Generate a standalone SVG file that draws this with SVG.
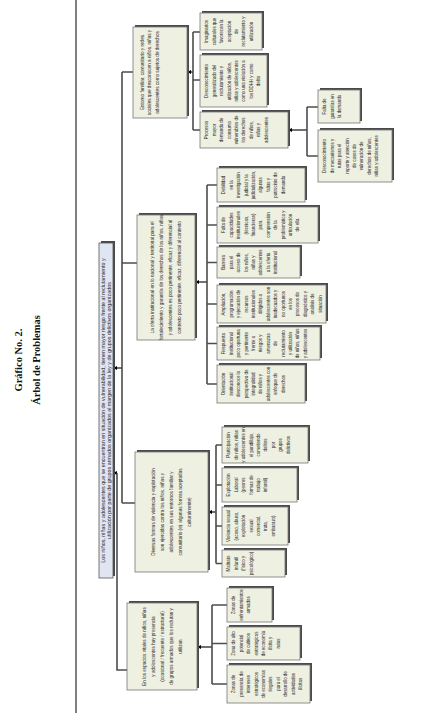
<svg xmlns="http://www.w3.org/2000/svg" width="431" height="713" viewBox="0 0 431 713">
<style>
.bg{fill:#ffffff}
.box{fill:#eef0e1;stroke:#777;stroke-width:0.8}
.rootbox{fill:#dfe6f2;stroke:#555;stroke-width:0.8}
.sh{fill:#4a4a4a}
.t{font-family:"Liberation Sans",Arial,sans-serif;font-size:5.4px;fill:#2a2a2a;text-anchor:middle}
.title{font-family:"Liberation Serif","Times New Roman",serif;font-weight:bold;font-size:10.5px;fill:#111;text-anchor:middle}
.c{stroke:#4d4d4d;stroke-width:1.6;fill:none}
.a{stroke:#4d4d4d;stroke-width:1.6;fill:none;marker-end:url(#arr)}
</style>
<defs>
<marker id="arr" viewBox="0 0 10 10" refX="9" refY="5" markerWidth="4" markerHeight="4" markerUnits="userSpaceOnUse" orient="auto">
<path d="M0,0 L10,5 L0,10 z" fill="#000"/>
</marker>
</defs>
<rect class="bg" x="0" y="0" width="431" height="713"/>
<g transform="matrix(0,-1,1,0,0,713)">
<g id="title">
<text class="title" x="353" y="22">Gráfico No. 2.</text>
<text class="title" x="353" y="40">Árbol de Problemas</text>
</g>
<line x1="0" y1="76" x2="713" y2="76" stroke="#555" stroke-width="1.5"/>
<g id="connectors">
<path class="a" d="M345,122 L345,113.5"/>
<path class="c" d="M210,122 L641,122 M641,122 L641,133 M450,122 L450,137 M210,122 L210,135"/>
<path class="a" d="M240,117 L240,113.5"/>
<path class="c" d="M240,117 L43,117 L43,127"/>
<path class="a" d="M641,193 L641,187.5"/>
<path class="c" d="M583,193 L681,193 M681,193 L681,200 M633,193 L633,200 M583,193 L583,200"/>
<path class="a" d="M583,307 L583,288.5"/>
<path class="c" d="M557,307 L606,307 M606,307 L606,318 M557,307 L557,318"/>
<path class="a" d="M431,207 L431,195.5"/>
<path class="c" d="M329,207 L528,207 M528,207 L528,217 M488,207 L488,217 M450.5,207 L450.5,217 M409,207 L409,217 M369.5,207 L369.5,217 M329,207 L329,217"/>
<path class="a" d="M201,216 L201,208.5"/>
<path class="c" d="M149.5,216 L268,216 M268,216 L268,222 M228,216 L228,222 M187,216 L187,222 M149.5,216 L149.5,222"/>
<path class="a" d="M66,212 L66,197.5"/>
<path class="c" d="M29,212 L108,212 M108,212 L108,227 M69.5,212 L69.5,227 M29,212 L29,227"/>
</g>
<g id="root">
<rect class="sh" x="137" y="101" width="335" height="14"/>
<rect class="rootbox" x="135" y="99" width="335" height="14"/>
<text class="t" x="302.5" y="104.9">Los niños, niñas y adolescentes que se encuentran en situación de vulnerabilidad, tienen mayor riesgo frente al reclutamiento y</text>
<text class="t" x="302.5" y="110.7">utilización por parte de grupos armados organizados al margen de la ley y de grupos delictivos organizados</text>
</g>
<g id="entorno">
<rect class="sh" x="597" y="135" width="91" height="54"/>
<rect class="box" x="595" y="133" width="91" height="54"/>
<text class="t" transform="translate(640.5,0) scale(0.86,1)"><tspan x="0" y="144">Entorno familiar, comunitario y redes</tspan><tspan x="0" y="151.4">sociales que desconocen a niños, niñas y</tspan><tspan x="0" y="158.8">adolescentes como sujetos de derechos</tspan></text>
</g>
<g id="imaginarios">
<rect class="sh" x="665" y="202" width="37" height="62"/>
<rect class="box" x="663" y="200" width="37" height="62"/>
<text class="t" transform="translate(681.5,0) scale(0.82,1)"><tspan x="0" y="208.5">Imaginarios</tspan><tspan x="0" y="215.9">culturales que</tspan><tspan x="0" y="223.3">favorecen la</tspan><tspan x="0" y="230.7">aceptación</tspan><tspan x="0" y="238.1">de</tspan><tspan x="0" y="245.5">reclutamiento y</tspan><tspan x="0" y="252.9">utilización</tspan></text>
</g>
<g id="desconocimiento">
<rect class="sh" x="608" y="202" width="52" height="67"/>
<rect class="box" x="606" y="200" width="52" height="67"/>
<text class="t" transform="translate(632,0) scale(0.82,1)"><tspan x="0" y="208.5">Desconocimiento</tspan><tspan x="0" y="215.9">generalizado del</tspan><tspan x="0" y="223.3">reclutamiento y</tspan><tspan x="0" y="230.7">utilización de niños,</tspan><tspan x="0" y="238.1">niñas y adolescentes</tspan><tspan x="0" y="245.5">como una violación a</tspan><tspan x="0" y="252.9">los DDHH y como</tspan><tspan x="0" y="260.3">delito</tspan></text>
</g>
<g id="procesos">
<rect class="sh" x="567" y="202" width="36" height="88"/>
<rect class="box" x="565" y="200" width="36" height="88"/>
<text class="t" transform="translate(583,0) scale(0.82,1)"><tspan x="0" y="208.5">Procesos</tspan><tspan x="0" y="215.9">mayor</tspan><tspan x="0" y="223.3">demanda de</tspan><tspan x="0" y="230.7">consumo</tspan><tspan x="0" y="238.1">vulnerables de</tspan><tspan x="0" y="245.5">los derechos</tspan><tspan x="0" y="252.9">de niños,</tspan><tspan x="0" y="260.3">niñas y</tspan><tspan x="0" y="267.7">adolescentes</tspan></text>
</g>
<g id="falta-garantias">
<rect class="sh" x="592" y="320" width="33" height="42"/>
<rect class="box" x="590" y="318" width="33" height="42"/>
<text class="t" transform="translate(606.5,0) scale(0.82,1)"><tspan x="0" y="326.5">Falta de</tspan><tspan x="0" y="333.9">garantías en</tspan><tspan x="0" y="341.3">la demanda</tspan></text>
</g>
<g id="desconocimiento-mecanismos">
<rect class="sh" x="533" y="320" width="52" height="74"/>
<rect class="box" x="531" y="318" width="52" height="74"/>
<text class="t" transform="translate(557,0) scale(0.82,1)"><tspan x="0" y="326.5">Desconocimiento</tspan><tspan x="0" y="333.9">de mecanismos y</tspan><tspan x="0" y="341.3">rutas para el</tspan><tspan x="0" y="348.7">reporte y atención</tspan><tspan x="0" y="356.1">de casos de</tspan><tspan x="0" y="363.5">vulneración de</tspan><tspan x="0" y="370.9">derechos de niños,</tspan><tspan x="0" y="378.3">niñas y adolescentes</tspan></text>
</g>
<g id="oferta">
<rect class="sh" x="375" y="139" width="125" height="58"/>
<rect class="box" x="373" y="137" width="125" height="58"/>
<text class="t" transform="translate(435.5,0) scale(0.86,1)"><tspan x="0" y="154.4">La oferta institucional en lo nacional y territorial para el</tspan><tspan x="0" y="163.4">fortalecimiento y garantía de los derechos de los niños, niñas</tspan><tspan x="0" y="172.4">y adolescentes es poco pertinente, eficaz y diferencial al</tspan><tspan x="0" y="181.4">contexto poco pertinente, eficaz, diferencial al contexto</tspan></text>
</g>
<g id="debilidad">
<rect class="sh" x="513" y="219" width="34" height="88"/>
<rect class="box" x="511" y="217" width="34" height="88"/>
<text class="t" transform="translate(528,0) scale(0.82,1)"><tspan x="0" y="225.5">Debilidad</tspan><tspan x="0" y="232.9">en la</tspan><tspan x="0" y="240.3">investigación</tspan><tspan x="0" y="247.7">judicial y la</tspan><tspan x="0" y="255.1">judicialización,</tspan><tspan x="0" y="262.5">algunas</tspan><tspan x="0" y="269.9">faltas y</tspan><tspan x="0" y="277.3">patrocinio de</tspan><tspan x="0" y="284.7">demanda</tspan></text>
</g>
<g id="falta-capacidades">
<rect class="sh" x="472" y="219" width="36" height="101"/>
<rect class="box" x="470" y="217" width="36" height="101"/>
<text class="t" transform="translate(488,0) scale(0.82,1)"><tspan x="0" y="225.5">Falta de</tspan><tspan x="0" y="232.9">capacidades</tspan><tspan x="0" y="240.3">institucionales</tspan><tspan x="0" y="247.7">(técnicas,</tspan><tspan x="0" y="255.1">financieras)</tspan><tspan x="0" y="262.5">para</tspan><tspan x="0" y="269.9">comprensión</tspan><tspan x="0" y="277.3">de la</tspan><tspan x="0" y="284.7">problemática y</tspan><tspan x="0" y="292.1">articulación</tspan><tspan x="0" y="299.5">de ella</tspan></text>
</g>
<g id="barrera">
<rect class="sh" x="437" y="219" width="31" height="83"/>
<rect class="box" x="435" y="217" width="31" height="83"/>
<text class="t" transform="translate(450.5,0) scale(0.82,1)"><tspan x="0" y="225.5">Barrera</tspan><tspan x="0" y="232.9">para el</tspan><tspan x="0" y="240.3">acceso de</tspan><tspan x="0" y="247.7">los niños,</tspan><tspan x="0" y="255.1">niñas y</tspan><tspan x="0" y="262.5">adolescentes</tspan><tspan x="0" y="269.9">a la oferta</tspan><tspan x="0" y="277.3">institucional</tspan></text>
</g>
<g id="ampliacion">
<rect class="sh" x="392" y="219" width="38" height="109"/>
<rect class="box" x="390" y="217" width="38" height="109"/>
<text class="t" transform="translate(409,0) scale(0.82,1)"><tspan x="0" y="225.5">Ampliación,</tspan><tspan x="0" y="232.9">programación</tspan><tspan x="0" y="240.3">y ejecución de</tspan><tspan x="0" y="247.7">recursos</tspan><tspan x="0" y="255.1">institucionales</tspan><tspan x="0" y="262.5">dirigidos a</tspan><tspan x="0" y="269.9">adolescentes son</tspan><tspan x="0" y="277.3">inadecuados y</tspan><tspan x="0" y="284.7">no oportunos</tspan><tspan x="0" y="292.1">en los</tspan><tspan x="0" y="299.5">procesos de</tspan><tspan x="0" y="306.9">diagnóstico y</tspan><tspan x="0" y="314.3">análisis de</tspan><tspan x="0" y="321.7">situación</tspan></text>
</g>
<g id="respuesta">
<rect class="sh" x="355" y="219" width="33" height="103"/>
<rect class="box" x="353" y="217" width="33" height="103"/>
<text class="t" transform="translate(369.5,0) scale(0.82,1)"><tspan x="0" y="225.5">Respuesta</tspan><tspan x="0" y="232.9">institucional</tspan><tspan x="0" y="240.3">poco oportuna</tspan><tspan x="0" y="247.7">y pertinente</tspan><tspan x="0" y="255.1">frente a</tspan><tspan x="0" y="262.5">riesgos y</tspan><tspan x="0" y="269.9">amenazas</tspan><tspan x="0" y="277.3">de</tspan><tspan x="0" y="284.7">reclutamiento</tspan><tspan x="0" y="292.1">y utilización</tspan><tspan x="0" y="299.5">de niños, niñas</tspan><tspan x="0" y="306.9">y adolescentes</tspan></text>
</g>
<g id="orientacion">
<rect class="sh" x="312" y="219" width="38" height="88"/>
<rect class="box" x="310" y="217" width="38" height="88"/>
<text class="t" transform="translate(329,0) scale(0.82,1)"><tspan x="0" y="225.5">Orientación</tspan><tspan x="0" y="232.9">institucional</tspan><tspan x="0" y="240.3">desconoce la</tspan><tspan x="0" y="247.7">perspectiva de</tspan><tspan x="0" y="255.1">integralidad</tspan><tspan x="0" y="262.5">de niños y</tspan><tspan x="0" y="269.9">adolescentes con</tspan><tspan x="0" y="277.3">enfoque de</tspan><tspan x="0" y="284.7">derechos</tspan></text>
</g>
<g id="diversas">
<rect class="sh" x="143" y="137" width="120" height="73"/>
<rect class="box" x="141" y="135" width="120" height="73"/>
<text class="t" transform="translate(201,0) scale(0.86,1)"><tspan x="0" y="155.4">Diversas formas de violencia y explotación</tspan><tspan x="0" y="164.4">son ejercidas contra los niños, niñas y</tspan><tspan x="0" y="173.4">adolescentes en sus entornos familiar y</tspan><tspan x="0" y="182.4">comunitario (ej: algunas formas aceptadas</tspan><tspan x="0" y="191.4">culturalmente)</tspan></text>
</g>
<g id="participacion">
<rect class="sh" x="252" y="224" width="36" height="86"/>
<rect class="box" x="250" y="222" width="36" height="86"/>
<text class="t" transform="translate(268,0) scale(0.82,1)"><tspan x="0" y="230.5">Participación</tspan><tspan x="0" y="237.9">de niños, niñas</tspan><tspan x="0" y="245.3">y adolescentes en</tspan><tspan x="0" y="252.7">el pandillaje,</tspan><tspan x="0" y="260.1">cometiendo</tspan><tspan x="0" y="267.5">delitos</tspan><tspan x="0" y="274.9">por</tspan><tspan x="0" y="282.3">grupos</tspan><tspan x="0" y="289.7">delictivos</tspan></text>
</g>
<g id="explotacion">
<rect class="sh" x="213" y="224" width="34" height="75"/>
<rect class="box" x="211" y="222" width="34" height="75"/>
<text class="t" transform="translate(228,0) scale(0.82,1)"><tspan x="0" y="230.5">Explotación</tspan><tspan x="0" y="237.9">Laboral</tspan><tspan x="0" y="245.3">(peores</tspan><tspan x="0" y="252.7">formas de</tspan><tspan x="0" y="260.1">trabajo</tspan><tspan x="0" y="267.5">infantil)</tspan></text>
</g>
<g id="violencia">
<rect class="sh" x="170" y="224" width="38" height="66"/>
<rect class="box" x="168" y="222" width="38" height="66"/>
<text class="t" transform="translate(187,0) scale(0.82,1)"><tspan x="0" y="230.5">Violencia sexual</tspan><tspan x="0" y="237.9">(acoso, abuso,</tspan><tspan x="0" y="245.3">explotación</tspan><tspan x="0" y="252.7">sexual</tspan><tspan x="0" y="260.1">comercial,</tspan><tspan x="0" y="267.5">trata,</tspan><tspan x="0" y="274.9">embarazo)</tspan></text>
</g>
<g id="maltrato">
<rect class="sh" x="138" y="224" width="27" height="63"/>
<rect class="box" x="136" y="222" width="27" height="63"/>
<text class="t" transform="translate(149.5,0) scale(0.82,1)"><tspan x="0" y="230.5">Maltrato</tspan><tspan x="0" y="237.9">infantil</tspan><tspan x="0" y="245.3">(físico y</tspan><tspan x="0" y="252.7">psicológico)</tspan></text>
</g>
<g id="espacios">
<rect class="sh" x="25" y="129" width="87" height="70"/>
<rect class="box" x="23" y="127" width="87" height="70"/>
<text class="t" transform="translate(66.5,0) scale(0.85,1)"><tspan x="0" y="145.9">En los espacios vitales de niños, niñas</tspan><tspan x="0" y="154.9">y adolescentes hay presencia</tspan><tspan x="0" y="163.9">(ocasional / frecuente / estructural)</tspan><tspan x="0" y="172.9">de grupos armados que los reclutan y</tspan><tspan x="0" y="181.9">utilizan</tspan></text>
</g>
<g id="zonas-enfrentamientos">
<rect class="sh" x="93" y="229" width="34" height="45"/>
<rect class="box" x="91" y="227" width="34" height="45"/>
<text class="t" transform="translate(108,0) scale(0.82,1)"><tspan x="0" y="235.5">Zonas de</tspan><tspan x="0" y="242.9">enfrentamientos</tspan><tspan x="0" y="250.3">armados</tspan></text>
</g>
<g id="zona-alto-potencial">
<rect class="sh" x="55" y="229" width="33" height="73"/>
<rect class="box" x="53" y="227" width="33" height="73"/>
<text class="t" transform="translate(69.5,0) scale(0.82,1)"><tspan x="0" y="235.5">Zona de alto</tspan><tspan x="0" y="242.9">potencial</tspan><tspan x="0" y="250.3">de cultivos</tspan><tspan x="0" y="257.7">estratégicos</tspan><tspan x="0" y="265.1">de economía</tspan><tspan x="0" y="272.5">ilícita y</tspan><tspan x="0" y="279.9">rutas</tspan></text>
</g>
<g id="zonas-presencia">
<rect class="sh" x="12" y="229" width="38" height="83"/>
<rect class="box" x="10" y="227" width="38" height="83"/>
<text class="t" transform="translate(29,0) scale(0.82,1)"><tspan x="0" y="235.5">Zonas de</tspan><tspan x="0" y="242.9">presencia de</tspan><tspan x="0" y="250.3">intereses</tspan><tspan x="0" y="257.7">estratégicos</tspan><tspan x="0" y="265.1">de economías</tspan><tspan x="0" y="272.5">ilegales</tspan><tspan x="0" y="279.9">para el</tspan><tspan x="0" y="287.3">desarrollo de</tspan><tspan x="0" y="294.7">actividades</tspan><tspan x="0" y="302.1">ilícitas</tspan></text>
</g>
</g>
</svg>
